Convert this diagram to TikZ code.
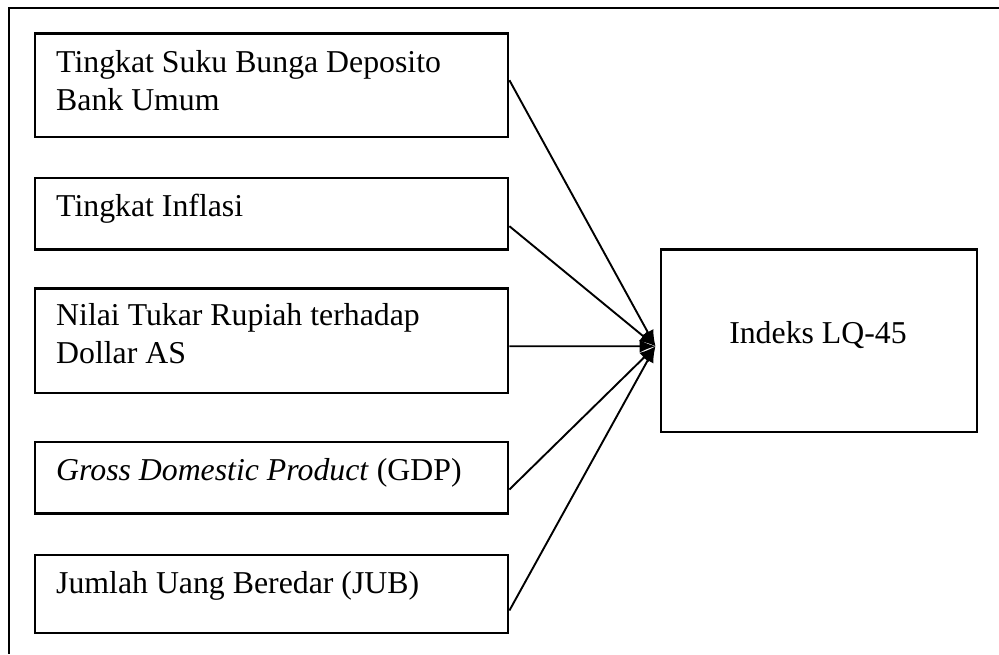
\documentclass[tikz,border=0pt]{standalone}
\usepackage{fontspec}
\setmainfont{Liberation Serif}
\usetikzlibrary{arrows.meta}
\begin{document}
\begin{tikzpicture}[x=1pt,y=-1pt,
  box/.style={draw,line width=2.4pt,minimum width=473pt,anchor=north west,inner sep=0pt},
  lbl/.style={anchor=base west,inner sep=0pt,font=\fontsize{31.8}{37.5}\selectfont,align=left},
  conn/.style={line width=1.9pt,-{Latex[length=16pt,width=13pt]}}]
\useasboundingbox (0,0) rectangle (999,654);
\draw[line width=2.4pt] (999,8) -- (9,8) -- (9,654);
% left boxes
\node[box,minimum height=103.7pt] (b1) at (34,32.3) {};
\node[box,minimum height=71.6pt] (b2) at (34,176.7) {};
\node[box,minimum height=104.4pt] (b3) at (34,287.3) {};
\node[box,minimum height=71.6pt] (b4) at (34,440.7) {};
\node[box,minimum height=78pt] (b5) at (34,554) {};
\node[lbl] (t1) at (56,110) {Tingkat Suku Bunga Deposito\\Bank Umum};
\node[lbl] (t2) at (56,216.7) {Tingkat Inflasi};
\node[lbl] (t3) at (56,363.3) {Nilai Tukar Rupiah terhadap\\Dollar AS};
\node[lbl] (t4) at (56,480) {\textit{Gross Domestic Product} (GDP)};
\node[lbl] (t5) at (56,593.3) {Jumlah Uang Beredar (JUB)};
% right box
\node[draw,line width=2.4pt,minimum width=316pt,minimum height=182.7pt,anchor=north west,inner sep=0pt] (y) at (660,248.3) {};
\node[lbl,anchor=base] (ty) at (818,343.3) {Indeks LQ-45};
\coordinate (tip) at ([xshift=-4.5pt,yshift=-5.4pt]y.west);
% connectors
\draw[conn] ([yshift=5.15pt]b1.east) -- (tip);
\draw[conn] ([yshift=-12.5pt]b2.east) -- (tip);
\draw[conn] ([yshift=-5.5pt]b3.east) -- (tip);
\draw[conn] ([yshift=-11.8pt]b4.east) -- (tip);
\draw[conn] ([yshift=-16.3pt]b5.east) -- (tip);
\end{tikzpicture}
\end{document}
